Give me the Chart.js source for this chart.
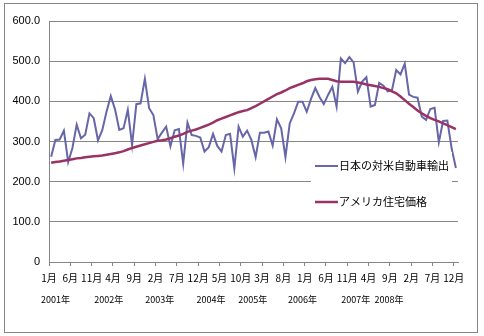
<!DOCTYPE html>
<html><head><meta charset="utf-8">
<script src="https://cdn.jsdelivr.net/npm/chart.js@4/dist/chart.umd.min.js"></script>
<style>html,body{margin:0;padding:0;background:#fff;}#wrap{position:relative;width:484px;height:336px;}</style>
</head><body><div id="wrap"><canvas id="c" width="484" height="336"></canvas></div>
<script>
const years = ['2001年','2002年','2003年','2004年','2005年','2006年','2007年','2008年'];
const monthNames = ['1月','2月','3月','4月','5月','6月','7月','8月','9月','10月','11月','12月'];
const categories = years.flatMap(y => monthNames.map(m => y + m));
const seriesNames = ['日本の対米自動車輸出', 'アメリカ住宅価格'];
const carExports = [
  262,304,305,327,249,284,342,308,317,370,358,303,
  328,374,413,380,329,333,379,291,393,395,456,383,
  366,306,322,337,288,328,331,245,347,316,314,310,
  275,286,319,289,275,316,319,233,337,312,327,304,
  261,322,322,325,290,355,333,261,345,370,399,399,
  374,406,433,411,393,416,436,387,507,495,510,497,
  424,449,460,387,391,446,439,425,428,478,467,494,
  417,411,409,362,354,381,384,298,351,352,283,234
];
const housePrice = [
  247,249,250,252,254,256,258,259,261,262,263,264,
  265,267,269,271,273,276,280,284,287,290,293,296,
  299,302,303,305,308,312,315,319,324,327,330,334,
  338,342,347,353,357,361,365,369,373,376,378,383,
  388,394,400,406,412,418,422,427,433,437,441,445,
  450,453,455,456,456,456,453,450,449,449,449,449,
  447,445,442,440,438,436,433,430,425,420,412,403,
  394,386,377,370,364,358,354,350,345,341,336,331
];
const yTicks = [0,100,200,300,400,500,600];
// year label centres, in category units (as placed in the original)
const yearLabelPos = [1, 13.5, 25.5, 37.5, 47.3, 59, 71.5, 79.3];

const GRAY = '#868686';
const decor = {
  id: 'decor',
  beforeDraw(chart) {
    const c = chart.ctx; c.save(); c.fillStyle = '#fff'; c.fillRect(0, 0, chart.width, chart.height); c.restore();
  },
  afterDraw(chart) {
    const c = chart.ctx, xs = chart.scales.x;
    c.save();
    c.strokeStyle = GRAY; c.lineWidth = 1; c.strokeRect(4.5, 3.5, 473, 329);
    c.font = '9px "Noto Sans CJK JP"'; c.fillStyle = '#000'; c.textAlign = 'center'; c.textBaseline = 'middle';
    years.forEach((t, k) => c.fillText(t, xs.getPixelForValue(yearLabelPos[k]), 300));
    c.fillStyle = '#fff'; c.fillRect(311, 152, 141, 62);
    c.font = '11px "Noto Sans CJK JP"'; c.textAlign = 'left';
    chart.data.datasets.forEach((ds, k) => {
      const y = 166 + k * 36;
      c.strokeStyle = ds.borderColor; c.lineWidth = ds.borderWidth;
      c.beginPath(); c.moveTo(315, y); c.lineTo(338, y); c.stroke();
      c.fillStyle = '#000'; c.fillText(ds.label, 339, y);
    });
    c.restore();
  }
};

Chart.defaults.color = '#000';
Chart.defaults.font.family = '"Liberation Sans", Arial, sans-serif';
new Chart(document.getElementById('c'), {
  type: 'line',
  data: {
    labels: categories,
    datasets: [
      { label: seriesNames[0], data: carExports, borderColor: '#6666a8', borderWidth: 2, pointRadius: 0, tension: 0, order: 1 },
      { label: seriesNames[1], data: housePrice, borderColor: '#993366', borderWidth: 2.5, pointRadius: 0, tension: 0, order: 0 }
    ]
  },
  options: {
    responsive: false, animation: false,
    layout: { padding: { left: 0, right: 26, top: 21, bottom: 0 } },
    plugins: { legend: { display: false }, tooltip: { enabled: false } },
    scales: {
      x: {
        offset: true,
        grid: { offset: true, drawOnChartArea: false, tickLength: 4,
                color: ctx => (ctx.index % 5 === 0 && ctx.index < 96) ? GRAY : 'rgba(0,0,0,0)' },
        border: { color: GRAY },
        ticks: { autoSkip: false, maxRotation: 0, minRotation: 0, padding: 6, labelOffset: -2.1,
                 font: { family: '"Noto Sans CJK JP"', size: 10 },
                 callback: (v, i) => i % 5 === 0 ? monthNames[i % 12] : '' },
        afterFit: s => { s.height = 74; }
      },
      y: {
        min: 0, max: 600,
        afterBuildTicks: s => { s.ticks = yTicks.map(v => ({ value: v })); },
        grid: { color: GRAY, drawTicks: false },
        border: { color: GRAY },
        ticks: { padding: 9, font: { size: 11 }, callback: v => v === 0 ? '0' : v.toFixed(1) },
        afterFit: s => { s.width = 49; }
      }
    }
  },
  plugins: [decor]
});
</script></body></html>
